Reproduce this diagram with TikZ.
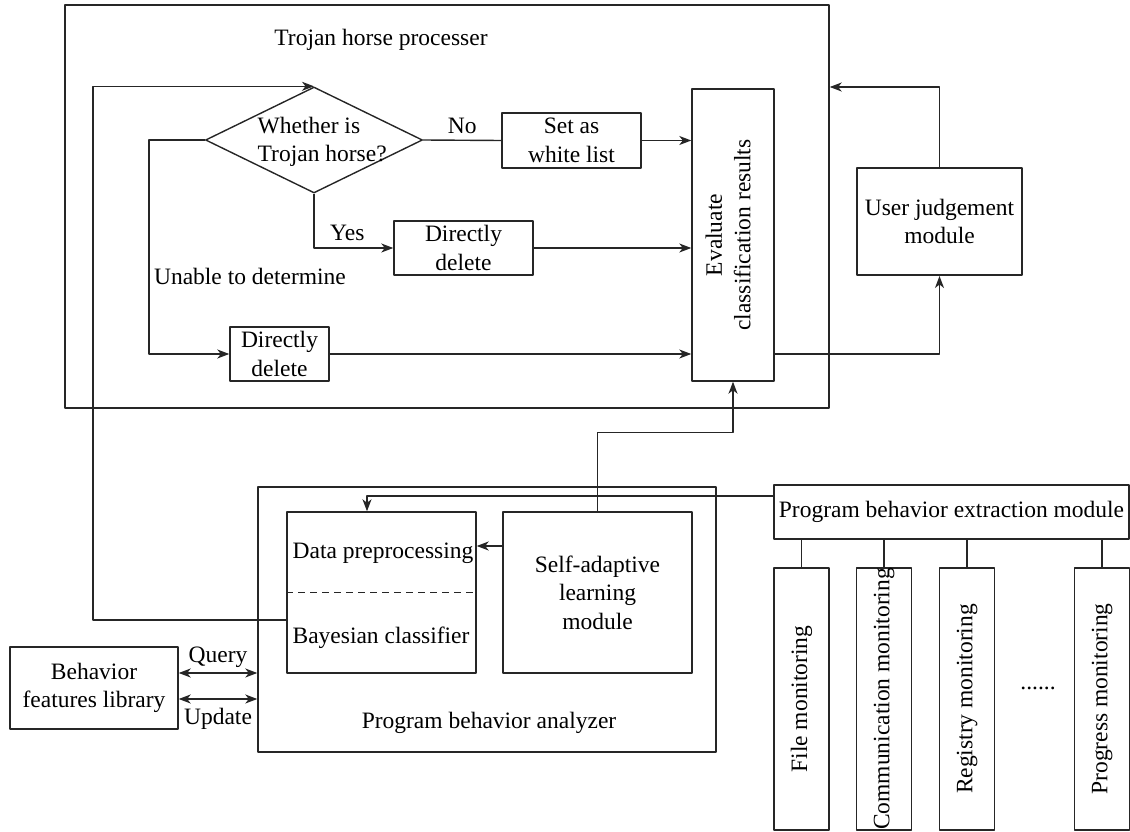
\documentclass[tikz,border=0pt]{standalone}
\usepackage{fontspec}
\setmainfont{Liberation Serif}
\usetikzlibrary{shapes.geometric,arrows.meta}

\begin{document}
\begin{tikzpicture}[x=1pt,y=-1pt,line join=round,line width=1.4pt,draw=black!85,
		>={Stealth[length=12pt,width=9pt,inset=3.5pt]},
		every node/.style={font=\fontsize{23.5}{28.5}\selectfont},
		box/.style={draw,inner sep=0pt,align=center},
		plain/.style={inner sep=2pt,align=center}]
	\useasboundingbox (0,0) rectangle (1130,832);
	% Trojan horse processer
	\node[box,minimum width=764pt,minimum height=403pt] (proc) at (447,206.5) {};
	\node[plain] (proctitle) at (381,40) {Trojan horse processer};
	\node[draw,diamond,inner sep=0pt,minimum width=217pt,minimum height=106pt] (judge) at (314,140) {};
	\node[plain,align=left,anchor=west] (judgetxt) at (255,142) {Whether is\\Trojan horse?};
	\node[box,minimum width=139pt,minimum height=55pt] (white) at (571.5,140.5) {Set as\\white list};
	\node[box,minimum width=139pt,minimum height=54pt] (del1) at (463.5,248) {Directly\\delete};
	\node[box,minimum width=99pt,minimum height=54pt] (del2) at (279.5,354) {Directly\\delete};
	\node[box,minimum width=82pt,minimum height=292pt] (eval) at (733,235) {};
	\node[plain,rotate=90] (evaltxt) at (728,235) {Evaluate\\classification results};
	\node[box,line width=2pt,minimum width=165pt,minimum height=107pt] (user) at (939.5,221.5) {User judgement\\module};
	% Program behavior analyzer
	\node[box,minimum width=458pt,minimum height=265pt] (analyzer) at (487,619.5) {};
	\node[plain] (analyzertxt) at (489,723) {Program behavior analyzer};
	\node[box,minimum width=189pt,minimum height=161pt] (bayes) at (381.5,592.5) {};
	\node[plain] (prep) at (383,553) {Data preprocessing};
	\node[plain] (cls) at (381,638) {Bayesian classifier};
	\draw[dash pattern=on 7pt off 5pt,line width=1.1pt] (bayes.west) -- (bayes.east);
	\node[box,minimum width=189pt,minimum height=161pt] (adapt) at (597.5,592.5) {Self-adaptive\\learning\\module};
	\node[box,minimum width=168pt,minimum height=82pt] (lib) at (94,688) {Behavior\\features library};
	% extraction and monitoring
	\node[box,minimum width=355pt,minimum height=54pt] (extract) at (951.5,512) {Program behavior extraction module};
	\foreach \x/\n/\t in {801.5/mfile/File monitoring,884/mcomm/Communication monitoring,967/mreg/Registry monitoring,1102/mprog/Progress monitoring}{
		\node[box,minimum width=55pt,minimum height=262pt] (\n) at (\x,699) {};
		\node[plain,rotate=90] (\n txt) at (\n.center) {\t};
		\draw (\n.north) -- (\n.north |- extract.south);
	}
	\node[plain] (dots) at (1038,688) {......};
	% connectors
	\coordinate (fbx) at (93,0);
	\coordinate (ux) at (149,0);
	\draw[->] ([yshift=-27.5pt]bayes.west) -| (judge.north -| fbx) -- (judge.north);
	\draw (judge.east) -- node[above=2pt]{No} (white.west);
	\draw[->] (white.east) -- (white.east -| eval.west);
	\draw[->] (judge.south) |- node[pos=0.71,above=3pt]{Yes} (del1.west);
	\draw[->] (del1.east) -- (del1.east -| eval.west);
	\draw[->] (judge.west) -- (judge.west -| ux) -- node[pos=0.64,right=1pt]{Unable to determine} (del2.west -| ux) -- (del2.west);
	\draw[->] (del2.east) -- (del2.east -| eval.west);
	\draw[->] ([yshift=-119pt]eval.east) -| (user.south);
	\draw[->] (user.north) |- ([yshift=119.5pt]proc.east);
	\draw[->] (adapt.north) -- ++(0,-79) -| (eval.south);
	\draw[->] ([yshift=46.5pt]adapt.west) -- ([yshift=46.5pt]bayes.east);
	\draw[->] ([yshift=16pt]extract.west) -| ([xshift=-14.5pt]bayes.north);
	\draw[<->] ([yshift=15pt]lib.east) -- node[above=1pt]{Query} ([yshift=15pt]lib.east -| analyzer.west);
	\draw[<->] ([yshift=-11pt]lib.east) -- node[below=5pt]{Update} ([yshift=-11pt]lib.east -| analyzer.west);
\end{tikzpicture}
\end{document}
